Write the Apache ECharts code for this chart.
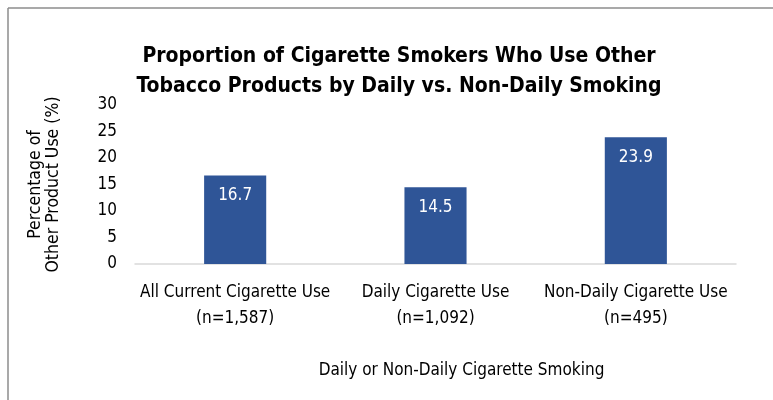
<!DOCTYPE html>
<html>
<head>
<meta charset="utf-8">
<script src="https://cdn.jsdelivr.net/npm/echarts@6/dist/echarts.min.js"></script>
<style>
  html, body { margin: 0; padding: 0; background: #ffffff; }
  #chart { width: 773px; height: 400px; }
</style>
</head>
<body>
<div id="chart"></div>
<script>
// Chart data
const categories = [
  'All Current Cigarette Use\n(n=1,587)',
  'Daily Cigarette Use\n(n=1,092)',
  'Non-Daily Cigarette Use\n(n=495)'
];
const shareUsingOther = [16.7, 14.5, 23.9];
const yTicks = { min: 0, max: 30, interval: 5 };

const FONT = '"DejaVu Sans Condensed", "Liberation Sans Narrow", "Arial Narrow", sans-serif';
const chart = echarts.init(document.getElementById('chart'), null, { renderer: 'canvas' });

chart.setOption({
  backgroundColor: '#ffffff',
  animation: false,
  title: {
    text: 'Proportion of Cigarette Smokers Who Use Other\nTobacco Products by Daily vs. Non-Daily Smoking',
    left: 394,
    top: 37,
    textAlign: 'center',
    textStyle: {
      fontFamily: FONT,
      fontWeight: 'bold',
      fontSize: 21,
      lineHeight: 30,
      color: '#000000'
    }
  },
  grid: { left: 135, right: 37, top: 105, bottom: 136, containLabel: false },
  xAxis: {
    type: 'category',
    data: categories,
    name: 'Daily or Non-Daily Cigarette Smoking',
    nameLocation: 'middle',
    nameGap: 98,
    nameTextStyle: {
      fontFamily: FONT, fontSize: 17, color: '#000000',
      padding: [0, 0, 0, 52]
    },
    axisLine: { show: true, lineStyle: { color: '#d9d9d9', width: 1.5 } },
    axisTick: { show: false },
    axisLabel: {
      fontFamily: FONT, fontSize: 17, color: '#000000',
      lineHeight: 26, margin: 16, interval: 0
    },
    splitLine: { show: false }
  },
  yAxis: {
    type: 'value',
    min: yTicks.min,
    max: yTicks.max,
    interval: yTicks.interval,
    name: 'Percentage of\nOther Product Use (%)',
    nameLocation: 'middle',
    nameRotate: 90,
    nameGap: 73,
    nameTextStyle: { fontFamily: FONT, fontSize: 17.5, lineHeight: 18, color: '#000000' },
    axisLine: { show: false },
    axisTick: { show: false },
    splitLine: { show: false },
    axisLabel: { fontFamily: FONT, fontSize: 17, color: '#000000', margin: 18 }
  },
  series: [{
    type: 'bar',
    data: shareUsingOther,
    barWidth: '31%',
    itemStyle: { color: '#2f5597' },
    label: {
      show: true,
      position: 'insideTop',
      distance: 12,
      fontFamily: FONT,
      fontSize: 17,
      color: '#ffffff',
      formatter: p => p.value.toFixed(1)
    }
  }],
  graphic: [
    { type: 'line', shape: { x1: 8, y1: 8, x2: 773, y2: 8 }, style: { stroke: '#8c8c8c', lineWidth: 1.5 } },
    { type: 'line', shape: { x1: 8, y1: 8, x2: 8, y2: 400 }, style: { stroke: '#8c8c8c', lineWidth: 1.5 } }
  ]
});
</script>
</body>
</html>
